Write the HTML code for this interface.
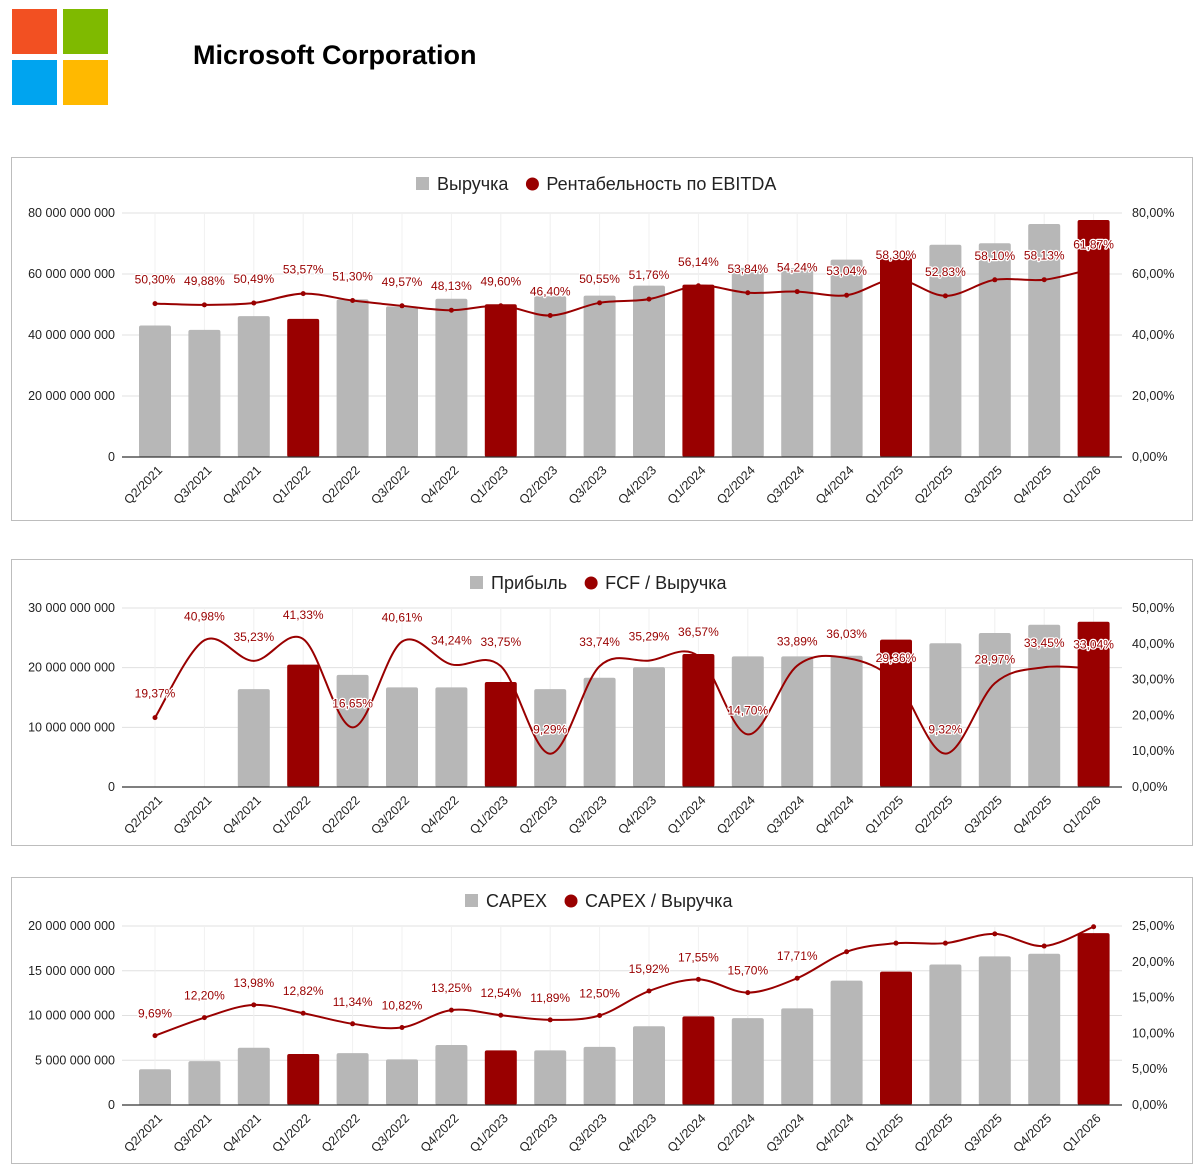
<!DOCTYPE html>
<html><head><meta charset="utf-8"><style>
body{margin:0;width:1200px;height:1174px;background:#fff;font-family:"Liberation Sans",sans-serif;position:relative;overflow:hidden}
.sq{position:absolute;width:45px;height:45px}
#title{position:absolute;left:193px;top:40px;font-size:27px;font-weight:bold;color:#000}
svg{position:absolute;left:0;top:0}
</style></head><body>
<div class="sq" style="left:12px;top:9px;background:#f25022"></div>
<div class="sq" style="left:63px;top:9px;background:#7fba00"></div>
<div class="sq" style="left:12px;top:60px;background:#00a4ef"></div>
<div class="sq" style="left:63px;top:60px;background:#ffb900"></div>
<div id="title">Microsoft Corporation</div>
<svg id="svg" width="1200" height="1174"></svg>
<script>
const categories=["Q2/2021","Q3/2021","Q4/2021","Q1/2022","Q2/2022","Q3/2022","Q4/2022","Q1/2023","Q2/2023","Q3/2023","Q4/2023","Q1/2024","Q2/2024","Q3/2024","Q4/2024","Q1/2025","Q2/2025","Q3/2025","Q4/2025","Q1/2026"];
const revenue=[43.1,41.7,46.2,45.3,51.7,49.4,51.9,50.1,52.7,52.9,56.2,56.5,62.0,61.9,64.7,65.6,69.6,70.1,76.4,77.7];
const ebitdaMargin=[50.30,49.88,50.49,53.57,51.30,49.57,48.13,49.60,46.40,50.55,51.76,56.14,53.84,54.24,53.04,58.30,52.83,58.10,58.13,61.87];
const profit=[null,null,16.4,20.5,18.8,16.7,16.7,17.6,16.4,18.3,20.1,22.3,21.9,21.9,22.0,24.7,24.1,25.8,27.2,27.7];
const fcfRatio=[19.37,40.98,35.23,41.33,16.65,40.61,34.24,33.75,9.29,33.74,35.29,36.57,14.70,33.89,36.03,29.36,9.32,28.97,33.45,33.04];
const capex=[4.0,4.9,6.4,5.7,5.8,5.1,6.7,6.1,6.1,6.5,8.8,9.9,9.7,10.8,13.9,14.9,15.7,16.6,16.9,19.2];
const capexRatio=[9.69,12.20,13.98,12.82,11.34,10.82,13.25,12.54,11.89,12.50,15.92,17.55,15.70,17.71,21.4,22.6,22.6,23.9,22.2,24.9];
const capexLabelShown=[1,1,1,1,1,1,1,1,1,1,1,1,1,1,0,0,0,0,0,0];
const leftTicks1=[0,20,40,60,80], rightTicks1=[0,20,40,60,80];
const leftTicks2=[0,10,20,30], rightTicks2=[0,10,20,30,40,50];
const leftTicks3=[0,5,10,15,20], rightTicks3=[0,5,10,15,20,25];

const svg=document.getElementById('svg');
const NS='http://www.w3.org/2000/svg';
function mk(tag,attrs,parent){const e=document.createElementNS(NS,tag);for(const k in attrs)e.setAttribute(k,attrs[k]);(parent||svg).appendChild(e);return e;}
function fmtB(v){if(v===0)return '0';return (v*1e9).toFixed(0).replace(/\B(?=(\d{3})+(?!\d))/g,' ');}
function fmtP(v){return v.toFixed(2).replace('.',',')+'%';}
const RED='#990000',GRAY='#b7b7b7';
function xc(i){return 155+i*49.4;}

function chart(o){
  const g=mk('g',{});
  
  
  const p=mk('rect',{x:11.5,y:o.py+.5,width:1181,height:o.ph,fill:'#fff',stroke:'#bdbdbd'},g);
  
  const yL=v=>o.bot-(v/o.lmax)*(o.bot-o.top);
  const yR=v=>o.bot-(v/o.rmax)*(o.bot-o.top);
  o.lt.forEach(t=>{const y=yL(t);
    if(t>0)mk('line',{x1:122,x2:1122,y1:y,y2:y,stroke:'#e0e0e0'},g);
    const tx=mk('text',{x:115,y:y+4,'text-anchor':'end','font-size':12.5,fill:'#222'},g);tx.textContent=fmtB(t);
    });
  o.rt.forEach(t=>{const y=yR(t);
    const tx=mk('text',{x:1132,y:y+4,'font-size':12.5,fill:'#222'},g);tx.textContent=fmtP(t);
    });
  categories.forEach((c,i)=>mk('line',{x1:xc(i),x2:xc(i),y1:o.top,y2:o.bot,stroke:'#f0f0f0'},g));
  o.bars.forEach((v,i)=>{if(v==null)return;const y=yL(v);
    const r=mk('rect',{x:xc(i)-16,y:y,width:32,height:o.bot-y,rx:2,fill:categories[i].startsWith('Q1')?RED:GRAY},g);
    });
  mk('line',{x1:122,x2:1122,y1:o.bot,y2:o.bot,stroke:'#333','stroke-width':1.2},g);
  const pts=o.line.map((v,i)=>[xc(i),yR(v)]);
  let d='M'+pts[0][0]+','+pts[0][1];
  for(let i=0;i<pts.length-1;i++){const p0=pts[i-1]||pts[i],p1=pts[i],p2=pts[i+1],p3=pts[i+2]||p2;
    const c1=[p1[0]+(p2[0]-p0[0])/6,p1[1]+(p2[1]-p0[1])/6],c2=[p2[0]-(p3[0]-p1[0])/6,p2[1]-(p3[1]-p1[1])/6];
    d+=` C${c1[0]},${c1[1]} ${c2[0]},${c2[1]} ${p2[0]},${p2[1]}`;}
  const ln=mk('path',{d:d,fill:'none',stroke:RED,'stroke-width':2},g);
  
  pts.forEach((p,i)=>{if(o.dots||i===0)mk('circle',{cx:p[0],cy:p[1],r:2.5,fill:RED},g);
    if(o.show&&!o.show[i])return;
    const t=mk('text',{x:p[0],y:p[1]-(o.lab||20),'text-anchor':'middle','font-size':12,fill:RED,stroke:'#fff','stroke-width':2.5,'paint-order':'stroke','stroke-linejoin':'round'},g);t.textContent=fmtP(o.line[i]);
    });
  categories.forEach((c,i)=>{const x=xc(i)+8,y=o.bot+14;
    const t=mk('text',{x:x,y:y,'text-anchor':'end','font-size':12.5,fill:'#222',transform:`rotate(-45 ${x} ${y})`},g);t.textContent=c;
    });
  const lg=mk('g',{},g);
  const lx=o.lx,ly=o.ly;
  mk('rect',{x:lx,y:ly-7,width:13,height:13,fill:GRAY},lg);
  const t1=mk('text',{x:lx+21,y:ly+6,'font-size':18,fill:'#222'},lg);t1.textContent=o.l1;
  const w1=t1.getComputedTextLength();
  mk('circle',{cx:lx+21+w1+24,cy:ly,r:6.5,fill:RED},lg);
  const t2=mk('text',{x:lx+21+w1+38,y:ly+6,'font-size':18,fill:'#222'},lg);t2.textContent=o.l2;
}
chart({name:'revenue-chart',py:157,ph:363,top:213,bot:457,lmax:80,rmax:80,lt:leftTicks1,rt:rightTicks1,bars:revenue,line:ebitdaMargin,dots:true,lx:416,ly:184,l1:'Выручка',l2:'Рентабельность по EBITDA'});
chart({name:'profit-chart',py:559,ph:286,top:608,bot:787,lmax:30,rmax:50,lt:leftTicks2,rt:rightTicks2,bars:profit,line:fcfRatio,dots:false,lab:20,lx:470,ly:583,l1:'Прибыль',l2:'FCF / Выручка'});
chart({name:'capex-chart',py:877,ph:286,top:926,bot:1105,lmax:20,rmax:25,lt:leftTicks3,rt:rightTicks3,bars:capex,line:capexRatio,dots:true,show:capexLabelShown,lab:18,lx:465,ly:901,l1:'CAPEX',l2:'CAPEX / Выручка'});
</script>
</body></html>
